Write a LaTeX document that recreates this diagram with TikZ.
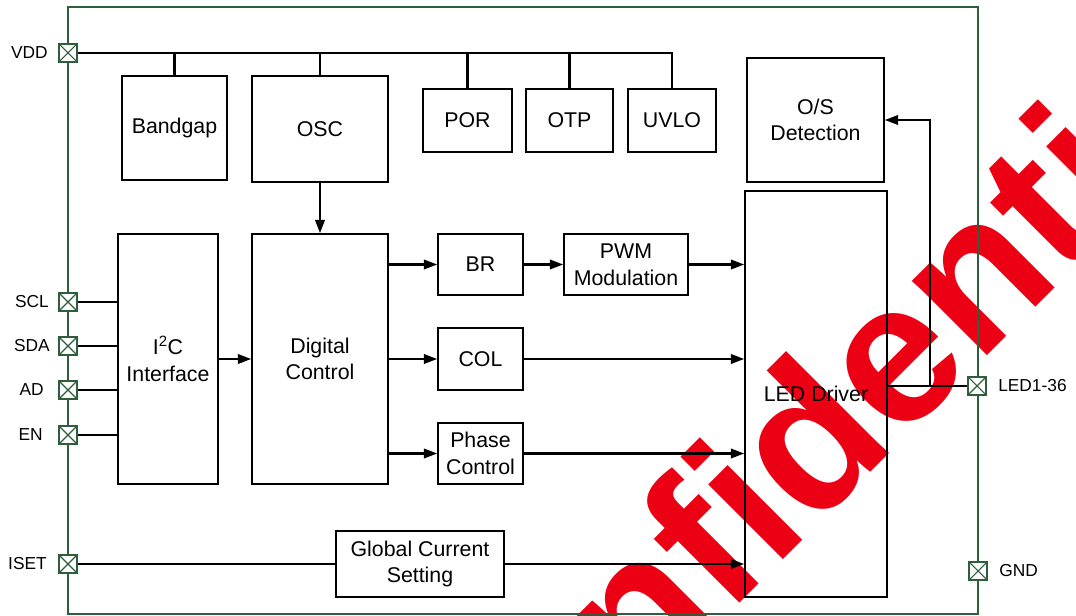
\documentclass[tikz,border=0pt]{standalone}
\usepackage{fontspec}
\setmainfont{Liberation Sans}
\usetikzlibrary{arrows.meta}
\definecolor{pinGreen}{RGB}{46,94,60}
\definecolor{wmRed}{RGB}{235,0,20}
\begin{document}
\begin{tikzpicture}[x=0.75pt,y=-0.75pt,
  blk/.style={draw=black, line width=1.1pt, inner sep=0pt, align=center,
    font=\fontsize{16}{20}\selectfont},
  pin/.style={draw=pinGreen, fill=white, line width=1pt, minimum size=13.5pt,
    inner sep=0pt, path picture={\draw[pinGreen, line width=0.8pt]
      (path picture bounding box.north west) -- (path picture bounding box.south east)
      (path picture bounding box.north east) -- (path picture bounding box.south west);}},
  pinlbl/.style={font=\fontsize{13}{15}\selectfont, inner sep=0pt},
  wire/.style={line width=1.8pt},
  arr/.style={wire, -{Triangle[length=10pt,width=7pt]}},
  wmark/.style={text=wmRed, font=\fontsize{150}{150}\selectfont\bfseries,
    rotate=45, anchor=base west, inner sep=0pt}
]
\useasboundingbox (0,0) rectangle (1076,616);
% watermark
\begin{scope}
  \clip (0,0) rectangle (1076,616);
  \node[wmark] (wm) at (451,892) {Confidential};
\end{scope}
% outer frame
\draw[pinGreen, line width=1.5pt] (68,7) rectangle (978,614);
% blocks
\node[blk, minimum width=78.75pt, minimum height=78pt] (bg) at (174.5,128) {Bandgap};
\node[blk, minimum width=102pt, minimum height=79.5pt] (osc) at (320,129) {OSC};
\node[blk, minimum width=66.75pt, minimum height=47.25pt] (por) at (467.5,120.5) {POR};
\node[blk, minimum width=65.25pt, minimum height=47.25pt] (otp) at (569.5,120.5) {OTP};
\node[blk, minimum width=66pt, minimum height=47.25pt] (uvlo) at (672,120.5) {UVLO};
\node[blk, minimum width=102.75pt, minimum height=93pt] (osd) at (815.5,120) {O/S\\Detection};
\node[blk, minimum width=106.5pt, minimum height=304.5pt] (led) at (816,394) {LED Driver};
\node[blk, minimum width=75pt, minimum height=187.5pt] (i2c) at (168,359) {I\textsuperscript{2}C\\Interface};
\node[blk, minimum width=102pt, minimum height=187.5pt] (dig) at (320,359) {Digital\\Control};
\node[blk, minimum width=63.75pt, minimum height=45.75pt] (br) at (480.5,264.5) {BR};
\node[blk, minimum width=93pt, minimum height=45.75pt] (pwm) at (626,264.5) {PWM\\Modulation};
\node[blk, minimum width=63.75pt, minimum height=46.5pt] (col) at (480.5,359) {COL};
\node[blk, minimum width=63.75pt, minimum height=45.75pt] (ph) at (480.5,453.5) {Phase\\Control};
\node[blk, minimum width=126pt, minimum height=49.5pt] (gcs) at (420,564) {Global Current\\Setting};
% pin coordinates
\coordinate (cvdd) at (68,53);
\coordinate (cscl) at (68,302);
\coordinate (csda) at (68,346);
\coordinate (cad) at (68,390);
\coordinate (cen) at (68,435);
\coordinate (ciset) at (68,564);
\coordinate (cled) at (977,386);
\coordinate (cgnd) at (978,571);
\coordinate (junc) at (930,386);
% wires
\draw[wire] (cvdd) -- (uvlo.north |- cvdd) -- (uvlo.north);
\draw[wire] (bg.north) -- (bg.north |- cvdd);
\draw[wire] (osc.north) -- (osc.north |- cvdd);
\draw[wire] (por.north) -- (por.north |- cvdd);
\draw[wire] (otp.north) -- (otp.north |- cvdd);
\draw[wire] (cscl) -- (cscl -| i2c.west);
\draw[wire] (csda) -- (csda -| i2c.west);
\draw[wire] (cad) -- (cad -| i2c.west);
\draw[wire] (cen) -- (cen -| i2c.west);
\draw[wire] (ciset) -- (ciset -| gcs.west);
\draw[arr] (i2c.east) -- (dig.west);
\draw[arr] (osc.south) -- (dig.north);
\draw[arr] (dig.east |- br.west) -- (br.west);
\draw[arr] (br.east) -- (pwm.west);
\draw[arr] (pwm.east) -- (pwm.east -| led.west);
\draw[arr] (dig.east |- col.west) -- (col.west);
\draw[arr] (col.east) -- (col.east -| led.west);
\draw[arr] (dig.east |- ph.west) -- (ph.west);
\draw[arr] (ph.east) -- (ph.east -| led.west);
\draw[arr] (gcs.east) -- (gcs.east -| led.west);
\draw[wire] (cled) -- (cled -| led.east);
\draw[arr] (junc) |- (osd.east);
% pins
\node[pin] (pvdd) at (cvdd) {};
\node[pin] (pscl) at (cscl) {};
\node[pin] (psda) at (csda) {};
\node[pin] (pad) at (cad) {};
\node[pin] (pen) at (cen) {};
\node[pin] (piset) at (ciset) {};
\node[pin] (pled) at (cled) {};
\node[pin] (pgnd) at (cgnd) {};
% pin labels
\node[pinlbl, anchor=east] (lvdd) at (48,53) {VDD};
\node[pinlbl, anchor=east] (lscl) at (49,302) {SCL};
\node[pinlbl, anchor=east] (lsda) at (50,346) {SDA};
\node[pinlbl, anchor=east] (lad) at (44,390) {AD};
\node[pinlbl, anchor=east] (len) at (43,435) {EN};
\node[pinlbl, anchor=east] (liset) at (47,564) {ISET};
\node[pinlbl, anchor=west] (lled) at (998,386) {LED1-36};
\node[pinlbl, anchor=west] (lgnd) at (999,571) {GND};
\end{tikzpicture}
\end{document}
